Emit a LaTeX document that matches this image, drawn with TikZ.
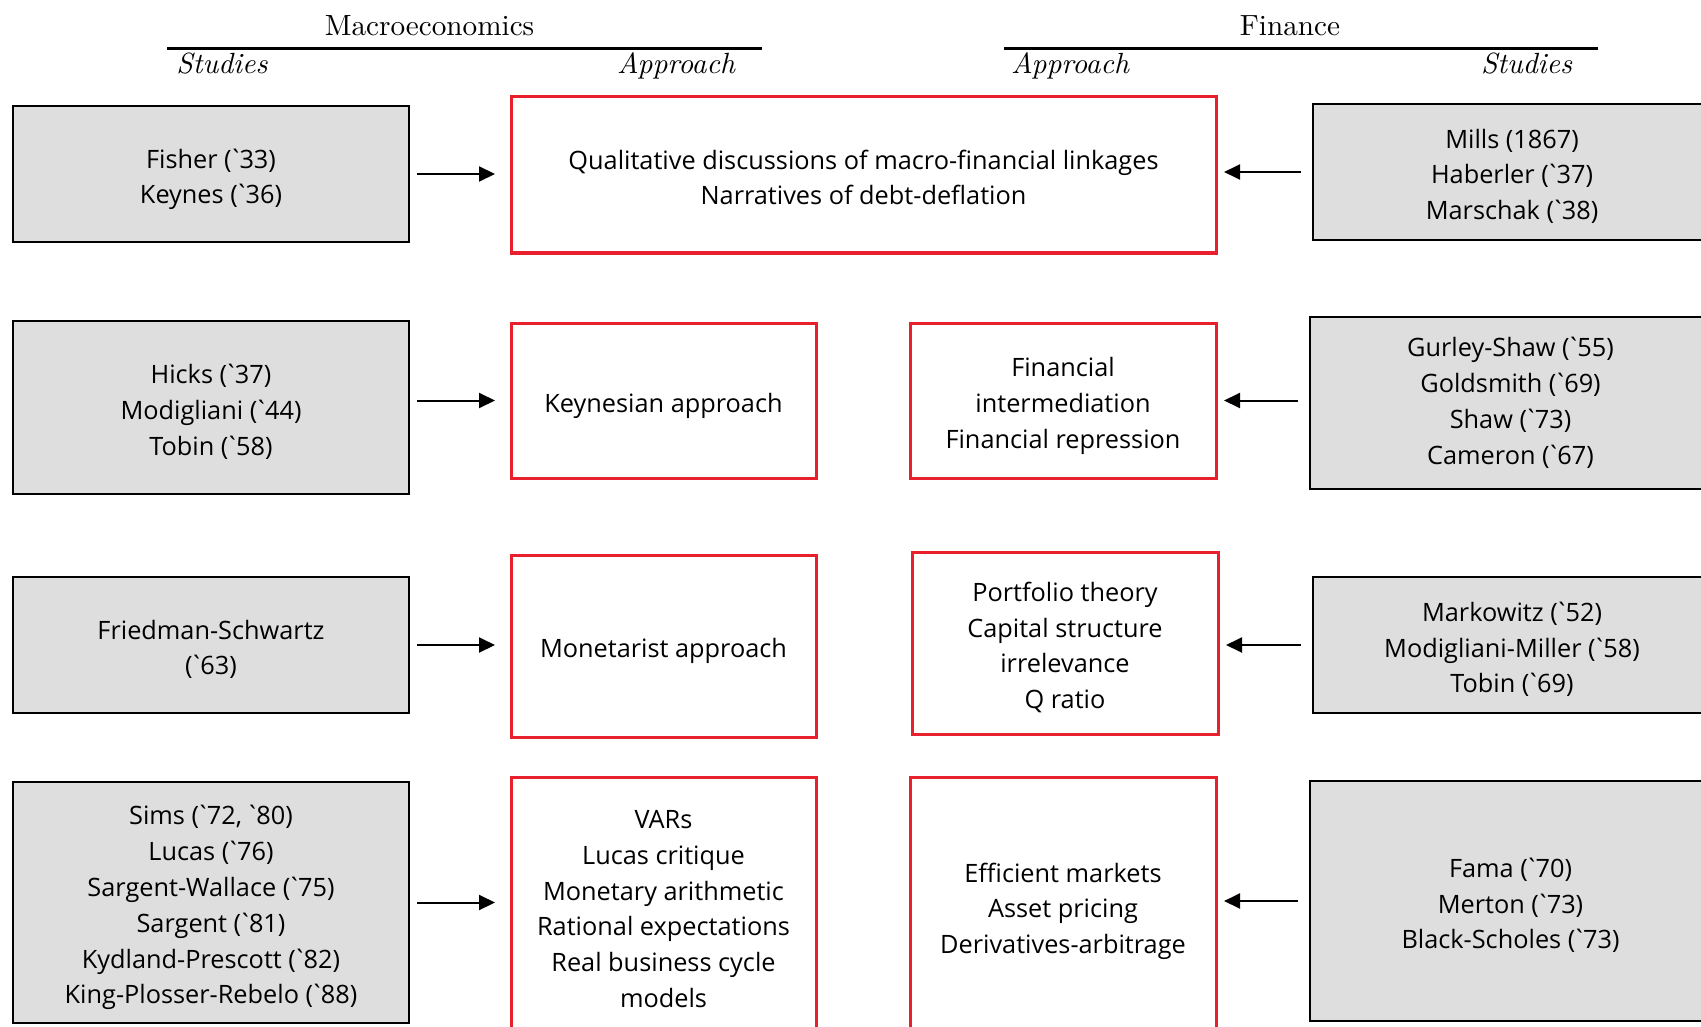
\documentclass[tikz,border=0pt]{standalone}
\usepackage{fontspec}
\newfontfamily\bodyfont{Open Sans}[Ligatures=TeXOff]
\newfontfamily\headfont{lmroman10-regular}[Extension=.otf, ItalicFont=lmroman10-italic]
\usetikzlibrary{arrows.meta}
\definecolor{boxgray}{RGB}{222,222,222}
\definecolor{boxred}{RGB}{232,32,46}
\newcommand\tS{\rule{0pt}{15pt}}
\newcommand\bS{\rule[-3pt]{0pt}{3pt}}
\newcommand\bt{\kern-1.6pt`\kern-1.8pt}
\begin{document}
\begin{tikzpicture}[x=0.5pt,y=-0.5pt,
  bodytext/.style={font=\bodyfont\fontsize{12.65}{17.9}\selectfont},
  study/.style={bodytext, draw=black, line width=1pt, fill=boxgray, align=center, inner sep=0pt, outer sep=0pt},
  appr/.style={bodytext, draw=boxred, line width=1.5pt, align=center, inner sep=0pt, outer sep=0pt},
  arr/.style={line width=1pt, -{Triangle[length=8pt,width=7.5pt]}},
  head/.style={font=\headfont\fontsize{14.6}{17}\selectfont, anchor=base, inner sep=0pt},
  sub/.style={font=\headfont\fontsize{14.6}{17}\selectfont\itshape, anchor=base, inner sep=0pt},
  rule/.style={line width=1.1pt}]
\useasboundingbox (0,0) rectangle (1701,1027);
\clip (0,0) rectangle (1701,1027);

% headers
\node[head] (macro) at (429.5,36) {Macroeconomics};
\node[head] (fin) at (1290,36) {Finance};
\coordinate (ml1) at (167,48.5);
\coordinate (ml2) at (761.5,48.5);
\coordinate (fl1) at (1003.5,48.5);
\coordinate (fl2) at (1598,48.5);
\draw[rule] (ml1) -- (ml2);
\draw[rule] (fl1) -- (fl2);
\node[sub] (ms) at (222,74) {Studies};
\node[sub] (ma) at (676,74) {Approach};
\node[sub] (fa) at (1070,74) {Approach};
\node[sub] (fs) at (1526.5,74) {Studies};

% left study boxes
\node[study, minimum width=198pt, minimum height=68pt] (L1) at (211,174) {\tS Fisher (\bt33)\\Keynes (\bt36)\bS};
\node[study, minimum width=198pt, minimum height=86.5pt] (L2) at (211,407.5) {\tS Hicks (\bt37)\\Modigliani (\bt44)\\Tobin (\bt58)\bS};
\node[study, minimum width=198pt, minimum height=68pt] (L3) at (211,645) {\tS Friedman-Schwartz\\(\bt63)\bS};
\node[study, minimum width=198pt, minimum height=120.5pt] (L4) at (211,902.5) {\tS Sims (\bt72, \bt80)\\Lucas (\bt76)\\Sargent-Wallace (\bt75)\\Sargent (\bt81)\\Kydland-Prescott (\bt82)\\King-Plosser-Rebelo (\bt88)\bS};

% approach boxes
\node[appr, minimum width=352.5pt, minimum height=78pt] (A1) at (863.5,175) {\tS Qualitative discussions of macro-financial linkages\\Narratives of debt-deflation\bS};
\node[appr, minimum width=152.5pt, minimum height=77.5pt] (A2) at (663.5,400.5) {\tS Keynesian approach\bS};
\node[appr, minimum width=153pt, minimum height=77.5pt] (F2) at (1063,400.5) {\tS Financial\\intermediation\\Financial repression\bS};
\node[appr, minimum width=152.5pt, minimum height=91pt] (A3) at (663.5,646) {\tS Monetarist approach\bS};
\node[appr, minimum width=153pt, minimum height=91pt] (F3) at (1065,643) {\tS Portfolio theory\\Capital structure\\irrelevance\\Q ratio\bS};
\node[appr, minimum width=152.5pt, minimum height=129pt] (A4) at (663.5,906) {\tS VARs\\Lucas critique\\Monetary arithmetic\\Rational expectations\\Real business cycle\\models\bS};
\node[appr, minimum width=153pt, minimum height=129pt] (F4) at (1063,906) {\tS Efficient markets\\Asset pricing\\Derivatives-arbitrage\bS};

% right study boxes
\node[study, minimum width=199pt, minimum height=68pt] (R1) at (1512,172) {\tS Mills (1867)\\Haberler (\bt37)\\Marschak (\bt38)\bS};
\node[study, minimum width=200.5pt, minimum height=86pt] (R2) at (1510.5,403) {Gurley-Shaw (\bt55)\\Goldsmith (\bt69)\\Shaw (\bt73)\\Cameron (\bt67)};
\node[study, minimum width=199pt, minimum height=68pt] (R3) at (1512,645) {\tS Markowitz (\bt52)\\Modigliani-Miller (\bt58)\\Tobin (\bt69)\bS};
\node[study, minimum width=200.5pt, minimum height=120pt] (R4) at (1510.5,901) {\tS Fama (\bt70)\\Merton (\bt73)\\Black-Scholes (\bt73)\bS};

% arrows
\draw[arr, shorten <=4pt, shorten >=8pt] (L1.east) -- (L1.east -| A1.west);
\draw[arr, shorten <=4pt, shorten >=8pt] (L2.east |- A2.west) -- (A2.west);
\draw[arr, shorten <=4pt, shorten >=8pt] (L3.east) -- (L3.east -| A3.west);
\draw[arr, shorten <=4pt, shorten >=8pt] (L4.east) -- (L4.east -| A4.west);
\draw[arr, shorten <=6pt, shorten >=4pt] (R1.west) -- (R1.west -| A1.east);
\draw[arr, shorten <=6pt, shorten >=4pt] (R2.west |- F2.east) -- (F2.east);
\draw[arr, shorten <=6pt, shorten >=4pt] (R3.west) -- (R3.west -| F3.east);
\draw[arr, shorten <=6pt, shorten >=4pt] (R4.west) -- (R4.west -| F4.east);
\end{tikzpicture}
\end{document}
